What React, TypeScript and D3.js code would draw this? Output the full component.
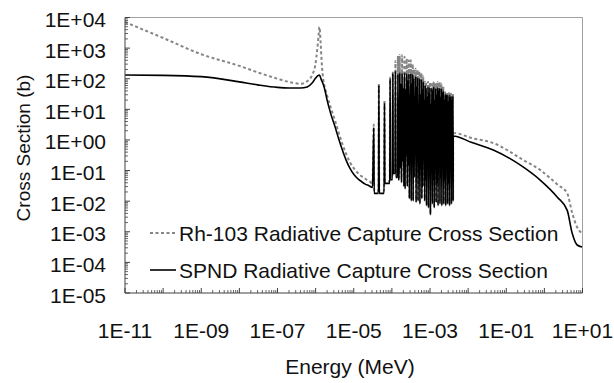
import React from "react";
import * as d3 from "d3";

const W = 614;
const H = 383;
const PLOT = { left: 125, right: 582.5, top: 17.5, bottom: 293 };
const FONT = "'Liberation Sans', Arial, sans-serif";

// ---- Data (energy in MeV, cross section in barns) ----
const lowEnergySpnd = [1e-11, 1e-10, 1e-9, 1e-8, 3e-8, 1e-7, 2e-7, 4e-7, 6e-7, 8e-7, 1e-6, 1.15e-6, 1.26e-6, 1.4e-6, 1.6e-6, 1.8e-6, 2e-6, 2.5e-6, 3.2e-6, 4e-6, 5e-6, 6.3e-6, 7.9e-6, 1e-5, 1.26e-5, 1.58e-5, 2e-5, 2.5e-5, 3.1e-5];
const lowSigmaSpnd = [132, 129, 117, 79, 63, 52, 50, 50, 54, 71, 105, 126, 132, 95, 63, 37, 20, 7.1, 2.8, 1.12, 0.48, 0.22, 0.12, 0.076, 0.055, 0.044, 0.036, 0.032, 0.028];

const lowEnergyRh = [1e-11, 1e-10, 1e-9, 1e-8, 3.2e-8, 1e-7, 2.5e-7, 4e-7, 6e-7, 8.1e-7, 9.8e-7, 1.1e-6, 1.2e-6, 1.26e-6, 1.35e-6, 1.45e-6, 1.6e-6, 1.8e-6, 2e-6, 2.5e-6, 3.2e-6, 4e-6, 5e-6, 6.3e-6, 7.9e-6, 1e-5, 1.26e-5, 1.58e-5, 2e-5, 2.5e-5, 3.1e-5];
const lowSigmaRh = [7100, 2140, 630, 263, 158, 100, 74, 68, 83, 132, 282, 870, 2690, 4900, 1580, 316, 89, 45, 28, 11.2, 4.5, 1.78, 0.76, 0.35, 0.19, 0.12, 0.085, 0.066, 0.054, 0.046, 0.038];

const resonanceEnergyEV = [33.5, 45.6, 64, 90, 106, 124, 144, 160, 172, 186, 199, 215, 230, 246, 262, 280, 296, 314, 333, 352, 374, 396, 420, 445, 472, 500, 528, 560, 594, 628, 665, 705, 746, 790, 838, 888, 940, 996, 1055, 1118, 1184, 1254, 1330, 1408, 1492, 1580, 1675, 1774, 1880, 1990, 2110, 2235, 2368, 2510, 2660, 2818, 2985, 3163, 3350, 3550, 3760, 3985];
const resonancePeakSpnd = [2.5, 60, 16, 100, 150, 180, 140, 155, 70, 150, 50, 155, 45, 150, 90, 150, 30, 150, 70, 140, 100, 25, 120, 55, 110, 12, 100, 30, 95, 45, 80, 20, 60, 50, 25, 54, 35, 52, 15, 50, 40, 54, 20, 48, 30, 52, 40, 50, 25, 48, 35, 40, 20, 32, 28, 30, 18, 30, 24, 28, 20, 27];
const resonancePeakRh = [3.2, 72, 20, 110, 170, 380, 560, 600, 180, 580, 110, 520, 90, 450, 250, 400, 50, 400, 160, 300, 200, 45, 210, 90, 190, 20, 170, 45, 150, 70, 120, 30, 80, 78, 35, 80, 55, 75, 25, 78, 60, 80, 30, 72, 45, 78, 60, 76, 35, 70, 50, 55, 28, 36, 32, 35, 22, 34, 30, 33, 25, 32];
const resonanceTroughSpnd = [0.018, 0.018, 0.038, 0.05, 0.08, 0.06, 0.05, 0.12, 0.04, 0.2, 0.03, 0.025, 0.3, 0.03, 0.15, 0.012, 0.8, 0.01, 0.3, 0.01, 0.06, 1.5, 0.009, 0.2, 0.01, 0.6, 0.008, 0.12, 0.012, 0.03, 0.3, 0.01, 0.05, 0.007, 0.4, 0.006, 0.08, 0.0035, 0.2, 0.008, 0.05, 0.006, 0.3, 0.009, 0.04, 0.007, 0.15, 0.008, 0.06, 0.007, 0.2, 0.008, 0.05, 0.007, 0.15, 0.008, 0.04, 0.007, 0.1, 0.008, 0.05, 0.01];
const resonanceTroughRh = [0.022, 0.022, 0.045, 0.06, 0.1, 0.07, 0.06, 0.15, 0.05, 0.25, 0.035, 0.03, 0.35, 0.035, 0.18, 0.014, 0.9, 0.012, 0.35, 0.012, 0.07, 1.7, 0.011, 0.25, 0.012, 0.7, 0.01, 0.15, 0.014, 0.035, 0.35, 0.012, 0.06, 0.008, 0.45, 0.007, 0.1, 0.004, 0.25, 0.01, 0.06, 0.007, 0.35, 0.011, 0.05, 0.008, 0.18, 0.01, 0.07, 0.008, 0.25, 0.01, 0.06, 0.008, 0.18, 0.009, 0.05, 0.008, 0.12, 0.009, 0.06, 0.012];

const highEnergySpnd = [4.07e-3, 0.0126, 0.0457, 0.282, 0.776, 2.19, 3.98, 5.37, 7.24, 9.77];
const highSigmaSpnd = [1.35, 0.82, 0.47, 0.129, 0.049, 0.0135, 0.005, 0.00089, 0.00037, 0.00032];
const highEnergyRh = [4.07e-3, 0.0126, 0.0457, 0.282, 0.776, 1.43, 2.19, 3.98, 5.37, 7.24, 9.77];
const highSigmaRh = [1.7, 1.15, 0.79, 0.22, 0.105, 0.056, 0.035, 0.018, 0.0041, 0.0014, 0.00089];

const xTickLabels = ["1E-11", "1E-09", "1E-07", "1E-05", "1E-03", "1E-01", "1E+01"];
const yTickLabels = ["1E-05", "1E-04", "1E-03", "1E-02", "1E-01", "1E+00", "1E+01", "1E+02", "1E+03", "1E+04"];

const seriesNames = ["Rh-103 Radiative Capture Cross Section", "SPND Radiative Capture Cross Section"];

type Pt = [number, number];

function buildSeries(lowE: number[], lowS: number[], peaks: number[], troughs: number[], highE: number[], highS: number[]): Pt[] {
  const pts: Pt[] = lowE.map((e, i) => [e, lowS[i]] as Pt);
  const res = resonanceEnergyEV.map((e) => e * 1e-6);
  const n = res.length;
  for (let i = 0; i < n; i++) {
    pts.push([res[i], peaks[i]]);
    const a = Math.log10(res[i]);
    if (i < n - 1) {
      const b = Math.log10(res[i + 1]);
      if (b - a > 0.04) {
        pts.push([Math.pow(10, a + 0.01), troughs[i]]);
        pts.push([Math.pow(10, b - 0.01), troughs[i]]);
      } else {
        pts.push([Math.pow(10, (a + b) / 2), troughs[i]]);
      }
    } else {
      pts.push([Math.pow(10, a + 0.006), troughs[i]]);
    }
  }
  highE.forEach((e, i) => pts.push([e, highS[i]]));
  return pts;
}

export default function App() {
  const x = d3.scaleLog().domain([1e-11, 10]).range([PLOT.left, PLOT.right]);
  const y = d3.scaleLog().domain([1e-5, 1e4]).range([PLOT.bottom, PLOT.top]);
  const line = d3
    .line<Pt>()
    .x((d) => x(d[0]))
    .y((d) => y(d[1]))
    .curve(d3.curveMonotoneX);

  const rh = buildSeries(lowEnergyRh, lowSigmaRh, resonancePeakRh, resonanceTroughRh, highEnergyRh, highSigmaRh);
  const spnd = buildSeries(lowEnergySpnd, lowSigmaSpnd, resonancePeakSpnd, resonanceTroughSpnd, highEnergySpnd, highSigmaSpnd);

  const xMajor: number[] = d3.range(-11, 2).map((k) => Math.pow(10, k));
  const xMinor: number[] = [];
  d3.range(-11, 1).forEach((k) => d3.range(2, 10).forEach((m) => xMinor.push(m * Math.pow(10, k))));
  const yMajor: number[] = d3.range(-5, 5).map((k) => Math.pow(10, k));
  const yMinor: number[] = [];
  d3.range(-5, 4).forEach((k) => d3.range(2, 10).forEach((m) => yMinor.push(m * Math.pow(10, k))));

  const axisColor = "#404040";
  const legendX1 = 150;
  const legendX2 = 176;
  const legendY = [233, 270];

  return (
    <svg width={W} height={H} style={{ position: "absolute", left: 0, top: 0, background: "#fff" }} fontFamily={FONT}>
      <rect x={0} y={0} width={W} height={H} fill="#fff" />
      <defs>
        <clipPath id="plotClip">
          <rect x={PLOT.left} y={PLOT.top} width={PLOT.right - PLOT.left} height={PLOT.bottom - PLOT.top} />
        </clipPath>
      </defs>
      {/* frame top/right */}
      <line x1={PLOT.left} x2={PLOT.right} y1={PLOT.top} y2={PLOT.top} stroke="#a0a0a0" strokeWidth={1} />
      <line x1={PLOT.right} x2={PLOT.right} y1={PLOT.top} y2={PLOT.bottom} stroke="#a0a0a0" strokeWidth={1} />

      {/* series */}
      <g clipPath="url(#plotClip)">
        <path d={line(rh) || ""} fill="none" stroke="#858585" strokeWidth={2} strokeDasharray="3,2.5" />
        <path d={line(spnd) || ""} fill="none" stroke="#000" strokeWidth={1.6} strokeLinejoin="round" />
      </g>

      {/* axes */}
      <line x1={PLOT.left} x2={PLOT.left} y1={PLOT.top} y2={PLOT.bottom} stroke={axisColor} strokeWidth={1} />
      <line x1={PLOT.left} x2={PLOT.right} y1={PLOT.bottom} y2={PLOT.bottom} stroke={axisColor} strokeWidth={1} />
      {yMajor.map((v, i) => (
        <line key={"ym" + i} x1={PLOT.left} x2={PLOT.left + 5} y1={y(v)} y2={y(v)} stroke={axisColor} />
      ))}
      {yMinor.map((v, i) => (
        <line key={"yn" + i} x1={PLOT.left} x2={PLOT.left + 3} y1={y(v)} y2={y(v)} stroke={axisColor} strokeWidth={0.8} />
      ))}
      {xMajor.map((v, i) => (
        <line key={"xm" + i} x1={x(v)} x2={x(v)} y1={PLOT.bottom} y2={PLOT.bottom - 5} stroke={axisColor} />
      ))}
      {xMinor.map((v, i) => (
        <line key={"xn" + i} x1={x(v)} x2={x(v)} y1={PLOT.bottom} y2={PLOT.bottom - 3} stroke={axisColor} strokeWidth={0.8} />
      ))}

      {/* tick labels */}
      {yTickLabels.map((t) => (
        <text key={t} x={106} y={y(Number(t)) + 9.5} textAnchor="end" fontSize={21} fill="#111">
          {t}
        </text>
      ))}
      {xTickLabels.map((t) => (
        <text key={t} x={x(Number(t))} y={337.5} textAnchor="middle" fontSize={21} fill="#111">
          {t}
        </text>
      ))}

      {/* axis titles */}
      <text x={350} y={374} textAnchor="middle" fontSize={21} fill="#111">
        Energy (MeV)
      </text>
      <text transform="translate(30,148) rotate(-90)" textAnchor="middle" fontSize={19} fill="#111">
        Cross Section (b)
      </text>

      {/* legend */}
      <line x1={legendX1} x2={legendX2} y1={legendY[0]} y2={legendY[0]} stroke="#858585" strokeWidth={2} strokeDasharray="3,2.5" />
      <line x1={legendX1} x2={legendX2} y1={legendY[1]} y2={legendY[1]} stroke="#000" strokeWidth={1.6} />
      {seriesNames.map((s, i) => (
        <text key={s} x={179} y={legendY[i] + 7.5} fontSize={21} fill="#111">
          {s}
        </text>
      ))}
    </svg>
  );
}
